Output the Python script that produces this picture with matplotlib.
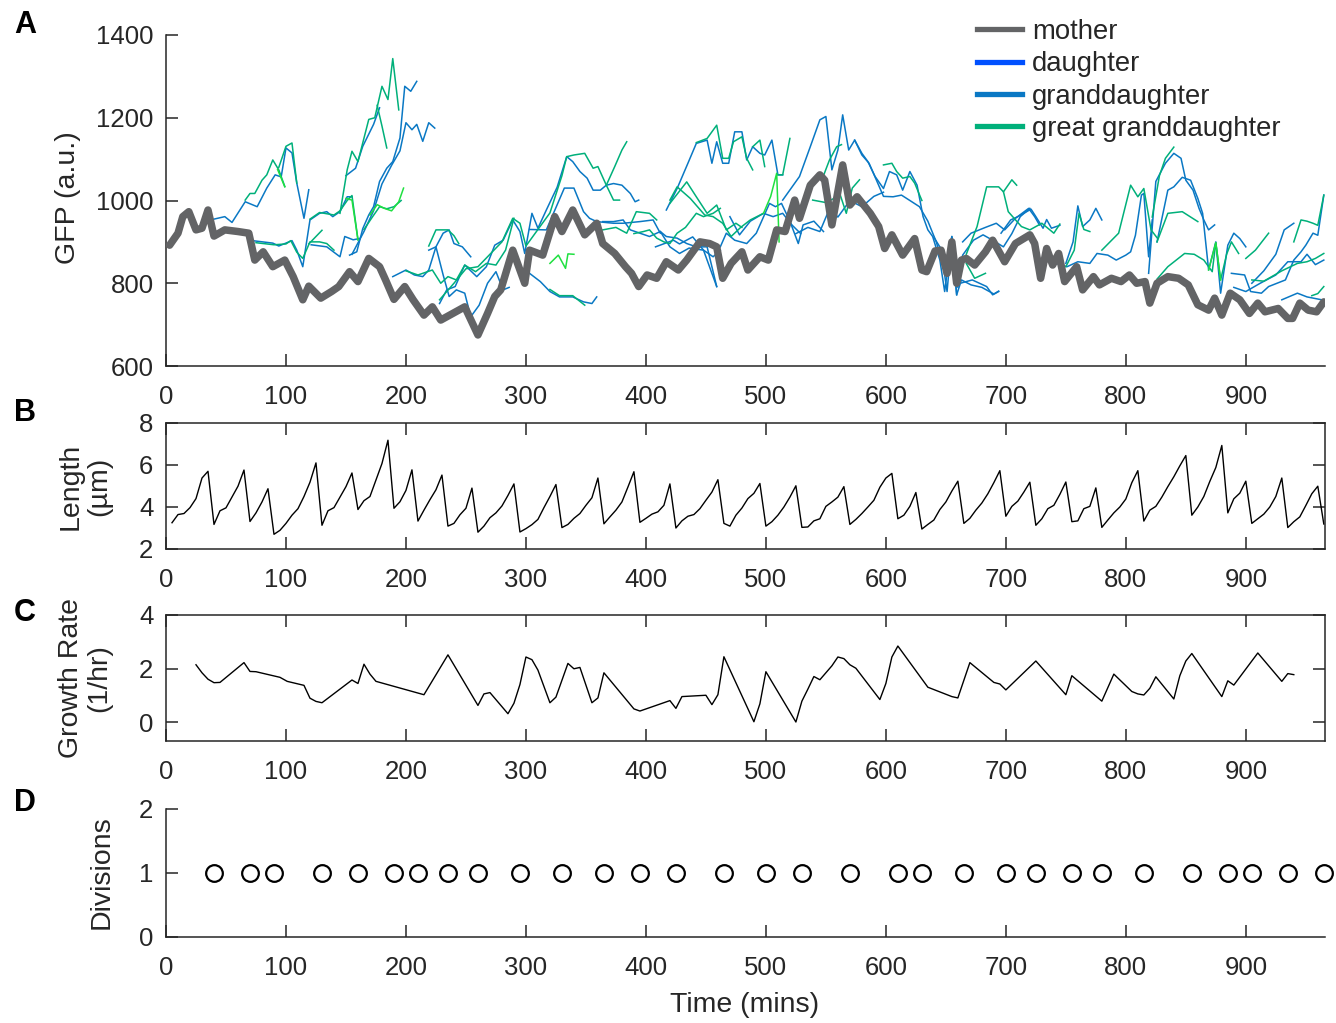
import numpy as np
import matplotlib
matplotlib.use("Agg")
import matplotlib.pyplot as plt

plt.rcParams['font.family'] = ['Liberation Sans', 'DejaVu Sans']

# ---------------- data ----------------
mother_t = [3, 10, 14, 19, 25, 30, 35, 40, 49, 60, 69, 74, 81, 89, 99, 106, 114, 119, 129, 138, 144, 153, 160, 169,
            178, 183, 190, 199, 206, 215, 222, 229, 239, 249, 260, 268, 274, 279, 289, 299, 303, 314, 324, 330, 339,
            349, 359, 364, 374, 383, 388, 394, 401, 409, 417, 427, 434, 445, 453, 459, 464, 471, 480, 485, 495, 502,
            509, 516, 524, 528, 537, 545, 549, 555, 564, 570, 576, 587, 594, 599, 605, 614, 624, 630, 634, 641, 646,
            651, 655, 659, 663, 667, 674, 683, 689, 699, 708, 720, 724, 729, 734, 739, 744, 749, 759, 764, 773, 778,
            788, 796, 803, 809, 816, 820, 826, 835, 844, 852, 860, 869, 874, 880, 887, 895, 903, 910, 916, 927, 935,
            939, 945, 952, 959, 965]
mother_gfp = [892, 921, 961, 973, 929, 933, 977, 914, 929, 925, 921, 856, 876, 840, 856, 816, 760, 793, 764, 780, 792,
              828, 804, 860, 840, 808, 761, 792, 760, 723, 743, 711, 727, 743, 675, 727, 768, 784, 880, 800, 880, 868,
              961, 925, 977, 917, 945, 896, 872, 840, 824, 792, 820, 812, 852, 832, 856, 900, 896, 888, 812, 848, 876,
              832, 864, 856, 929, 925, 1001, 957, 1037, 1062, 1049, 941, 1086, 989, 1009, 969, 937, 884, 917, 868, 908,
              832, 828, 878, 880, 824, 900, 800, 856, 860, 844, 876, 904, 852, 896, 917, 896, 812, 884, 844, 872, 804,
              840, 784, 816, 796, 812, 804, 820, 800, 804, 752, 800, 816, 812, 796, 748, 735, 764, 723, 776, 760, 727,
              752, 731, 739, 715, 715, 752, 735, 731, 755]

# granddaughter traces (time list, GFP list)
granddaughter = [
    ([40, 49, 55, 66, 76, 84, 91, 96, 100, 105, 109, 115, 119], [955, 961, 947, 997, 985, 1030, 1062, 1057, 1127, 1115, 1042, 957, 1026]),
    ([72, 89, 94, 105, 109, 114, 120, 128, 134, 139, 145, 151, 155], [903, 897, 890, 903, 880, 840, 953, 969, 973, 961, 973, 1009, 1009]),
    ([121, 134, 145, 149, 156, 161], [893, 888, 864, 913, 905, 908]),
    ([153, 159, 164, 169, 173, 178, 184, 189, 195, 199, 204, 209], [868, 876, 932, 965, 985, 1046, 1078, 1094, 1151, 1276, 1264, 1288]),
    ([155, 165, 173, 180, 188, 195, 200, 205, 209, 214, 219, 224], [870, 925, 975, 1040, 1085, 1120, 1188, 1171, 1184, 1143, 1188, 1175]),
    ([150, 158, 164, 173, 178], [1060, 1078, 1131, 1184, 1224]),
    ([189, 200, 207, 214, 219, 225, 231, 236, 242, 249, 254, 261, 268, 275, 281, 286], [816, 832, 820, 816, 832, 888, 820, 768, 784, 776, 719, 747, 800, 828, 784, 790]),
    ([219, 225, 231, 236, 240, 247, 254], [880, 888, 921, 929, 896, 888, 864]),
    ([228, 234, 241, 249, 259, 267, 274, 281, 289, 295, 299, 305, 310, 317, 326, 334, 339, 345, 351, 356, 362, 367, 373, 380, 387, 391, 394],
     [751, 784, 792, 844, 816, 840, 892, 904, 953, 925, 872, 969, 933, 977, 1032, 1106, 1094, 1070, 1054, 1025, 1025, 1037, 1041, 1037, 1017, 997, 1001]),
    ([303, 317, 332, 340, 348, 353, 359, 373, 381, 395, 406, 412], [930, 929, 1030, 1030, 973, 957, 949, 945, 945, 949, 953, 921]),
    ([303, 312, 320, 328, 339, 348, 355, 359], [824, 804, 780, 767, 767, 755, 751, 767]),
    ([364, 373, 381, 387, 395, 403, 412, 417, 426, 434, 442, 451, 459], [949, 949, 953, 929, 921, 913, 925, 913, 909, 896, 888, 888, 792]),
    ([412, 420, 428, 436, 448, 456, 462], [925, 888, 872, 885, 880, 864, 880]),
    ([417, 426, 435, 442, 451, 455, 459, 464, 469, 474, 480, 484, 489, 495, 499, 505, 510, 514],
     [977, 1029, 1090, 1138, 1146, 1090, 1142, 1090, 1090, 1166, 1166, 1098, 1130, 1114, 1110, 1146, 1062, 1062]),
    ([408, 423, 428, 439, 448, 459], [888, 904, 895, 912, 880, 792]),
    ([462, 467, 474, 484, 492, 503, 508, 513, 520, 527, 531, 540, 548], [888, 921, 904, 896, 921, 993, 985, 993, 950, 896, 941, 950, 925]),
    ([470, 478, 487, 498, 506, 514, 522, 529], [961, 917, 950, 969, 961, 969, 940, 920]),
    ([514, 528, 537, 545, 550, 555, 560, 564, 569, 574, 580, 585, 591, 598, 603, 609, 614, 620, 626, 631, 635, 639, 645, 649, 655, 659],
     [1001, 1058, 1130, 1195, 1203, 1074, 1122, 1207, 1122, 1146, 1114, 1094, 1058, 1029, 1070, 1062, 1025, 1070, 1037, 961, 929, 913, 856, 780, 913, 772]),
    ([574, 580, 586, 592, 598, 606, 613, 620, 628, 635, 642, 648, 651, 655, 660, 664, 673, 681, 689, 698, 705, 712, 720],
     [1146, 1110, 1090, 1050, 1010, 1009, 1013, 1000, 985, 950, 900, 840, 780, 910, 790, 868, 904, 917, 904, 888, 920, 961, 981]),
    ([525, 535, 545, 553, 560, 570, 580, 590, 598], [920, 935, 925, 980, 960, 1000, 985, 1010, 1020]),
    ([664, 671, 683, 692, 699, 708, 719, 724, 728], [900, 921, 935, 945, 929, 957, 981, 961, 941]),
    ([662, 672, 684, 689, 694], [800, 808, 792, 772, 780]),
    ([640, 651, 655, 659, 663, 671, 680, 690, 694], [911, 860, 913, 772, 808, 796, 790, 774, 781]),
    ([696, 704, 710, 721, 725, 731, 734, 738, 745], [921, 953, 961, 979, 961, 933, 954, 933, 940]),
    ([750, 756, 760, 764, 770, 775, 780], [848, 900, 987, 937, 953, 981, 953]),
    ([740, 751, 760, 770, 776, 785, 792, 800, 804, 808, 813, 815, 819, 822], [850, 840, 852, 848, 872, 868, 856, 868, 876, 916, 1013, 1017, 864, 953]),
    ([819, 825, 833, 840, 846, 850, 856, 861, 865, 869, 874], [824, 1046, 1090, 1114, 1102, 1049, 1025, 981, 953, 929, 941]),
    ([826, 835, 840, 847, 854, 860, 864, 869, 875, 879, 885, 890, 895, 900], [900, 1025, 1033, 1056, 1049, 1005, 969, 832, 900, 776, 892, 921, 908, 888]),
    ([888, 899, 904, 913, 919, 926, 933, 940, 946, 950, 956, 960, 965], [824, 820, 780, 776, 792, 800, 808, 856, 876, 892, 921, 916, 1013]),
    ([905, 915, 925, 932, 940], [800, 830, 870, 929, 945]),
    ([890, 900, 912, 925, 935, 946, 951, 958, 965], [790, 780, 800, 820, 852, 852, 870, 845, 856]),
    ([930, 943, 951, 965], [760, 776, 767, 759]),
]

# great granddaughter traces
great_granddaughter = [
    ([145, 151, 155, 160, 169, 174, 180, 185, 189, 194], [969, 1074, 1119, 1094, 1196, 1200, 1276, 1244, 1343, 1219]),
    ([176, 180, 184], [1230, 1180, 1127]),
    ([66, 70, 74, 80, 84, 89, 94, 99], [1001, 1017, 1017, 1049, 1062, 1098, 1074, 1034]),
    ([94, 100, 105, 109], [1080, 1131, 1139, 1042]),
    ([120, 128, 134, 140, 145, 151, 155, 160], [955, 971, 968, 965, 975, 1000, 1012, 905]),
    ([119, 126, 130], [895, 916, 928]),
    ([75, 90, 100, 104, 109, 114, 120, 128, 134, 140], [898, 893, 895, 903, 875, 860, 900, 900, 896, 880]),
    ([165, 172, 178, 184, 190, 196], [930, 960, 985, 980, 985, 1000]),
    ([200, 210, 222, 229, 235, 242, 249, 258, 267, 275, 283, 290], [830, 820, 832, 800, 816, 808, 844, 828, 848, 844, 880, 957]),
    ([219, 225, 235, 240, 244], [890, 929, 929, 915, 896]),
    ([228, 240, 250, 260, 270, 280, 289, 295, 300, 310, 320, 330, 334, 340, 349, 356, 360, 367, 373, 378],
     [760, 800, 835, 840, 870, 900, 957, 945, 890, 930, 970, 1060, 1106, 1110, 1114, 1078, 1082, 1037, 1001, 1001]),
    ([367, 374, 380, 384], [1037, 1082, 1122, 1142]),
    ([320, 328, 339, 349], [785, 770, 770, 747]),
    ([364, 375, 384, 392, 403, 409], [929, 935, 921, 973, 969, 953]),
    ([390, 398, 403, 409, 415, 420, 426, 433, 442, 448, 456, 462], [920, 925, 929, 909, 900, 896, 921, 935, 969, 961, 969, 981]),
    ([420, 426, 437, 449, 456, 464, 471, 479, 487, 498], [1001, 1033, 1005, 965, 961, 945, 913, 935, 953, 969]),
    ([442, 451, 459, 464, 469, 473, 480, 484, 489], [1140, 1150, 1182, 1102, 1102, 1142, 1154, 1102, 1074]),
    ([420, 434, 442, 451, 459, 467, 475, 480], [993, 1045, 1009, 969, 989, 929, 945, 935]),
    ([489, 495, 499], [1130, 1146, 1082]),
    ([510, 514, 520], [1062, 1062, 1150]),
    ([539, 550, 562, 567, 572, 578], [1001, 995, 1013, 969, 1030, 1050]),
    ([548, 553, 559, 563], [1060, 1098, 1130, 1135]),
    ([598, 605, 609, 614, 620, 624, 630], [1086, 1090, 1070, 1054, 1058, 1042, 1000]),
    ([667, 676, 684, 694, 698, 705, 709], [870, 937, 1033, 1033, 1021, 1050, 1037]),
    ([698, 702, 713, 720, 730, 740, 745], [1021, 973, 937, 929, 945, 921, 943]),
    ([667, 674, 683], [848, 812, 824]),
    ([750, 757, 761, 765, 770], [840, 880, 969, 930, 925]),
    ([780, 794, 804, 810, 815, 821, 826], [880, 921, 1037, 1009, 1029, 929, 910]),
    ([822, 828, 833, 840], [960, 1060, 1102, 1129]),
    ([826, 835, 847, 860], [900, 969, 973, 949]),
    ([826, 835, 849, 857, 865, 872, 875, 879, 884, 888, 894], [810, 840, 872, 870, 856, 828, 898, 808, 870, 900, 872]),
    ([940, 946, 951, 956, 960, 965], [900, 953, 950, 945, 940, 1013]),
    ([900, 908, 919], [860, 880, 921]),
    ([905, 915, 930, 943, 951, 958, 965], [808, 805, 830, 848, 852, 860, 872]),
    ([955, 960, 965], [770, 775, 792]),
]

# next generation (bright green, not in legend)
great_great_granddaughter = [
    ([93, 99], [1075, 1033]),
    ([150, 155, 160], [1005, 1001, 905]),
    ([170, 176, 182, 188, 194, 198], [965, 990, 981, 975, 997, 1030]),
    ([320, 327, 333, 335, 340], [848, 868, 836, 871, 870]),
    ([498, 504, 509, 511], [969, 1010, 1066, 900]),
    ([869, 875, 879], [832, 898, 808]),
]

length_t = list(range(5, 970, 5))
length_um = [3.25, 3.64, 3.69, 3.97, 4.40, 5.38, 5.70,
             3.17, 3.82, 3.96, 4.47, 4.99, 5.76,
             3.31, 3.72, 4.24, 4.87,
             2.70, 2.89, 3.22, 3.61, 3.92, 4.50, 5.18, 6.10,
             3.13, 3.82, 3.97, 4.47, 4.97, 5.62,
             3.88, 4.30, 4.50, 5.29, 6.07, 7.18,
             3.94, 4.25, 4.79, 5.77,
             3.33, 3.85, 4.35, 4.82, 5.52,
             3.09, 3.22, 3.63, 3.94, 4.90,
             2.80, 3.09, 3.49, 3.72, 4.05, 4.55, 5.10,
             2.81, 2.97, 3.16, 3.41, 3.97, 4.50, 5.07,
             3.02, 3.17, 3.46, 3.69, 4.08, 4.44, 5.38,
             3.20, 3.53, 3.85, 4.24, 4.95, 5.68,
             3.27, 3.46, 3.66, 3.77, 4.08, 5.10,
             3.00, 3.34, 3.56, 3.64, 3.92, 4.32, 4.71, 5.30,
             3.22, 3.09, 3.61, 3.95, 4.40, 4.65, 5.12,
             3.09, 3.30, 3.61, 4.00, 4.47, 5.01,
             3.03, 3.05, 3.34, 3.44, 4.03, 4.24, 4.47, 4.97,
             3.17, 3.41, 3.69, 4.00, 4.32, 4.94, 5.38, 5.60,
             3.44, 3.61, 4.03, 4.69,
             2.95, 3.17, 3.38, 3.88, 4.24, 4.76, 5.23,
             3.22, 3.46, 3.85, 4.19, 4.63, 5.16, 5.73,
             3.56, 4.03, 4.28, 4.71, 5.18,
             3.13, 3.44, 3.92, 4.08, 4.60, 5.19,
             3.30, 3.34, 3.92, 4.03, 4.91,
             3.03, 3.38, 3.72, 4.00, 4.38, 5.16, 5.73,
             3.33, 3.85, 4.03, 4.47, 4.97, 5.44, 5.96, 6.45,
             3.61, 4.00, 4.50, 5.22, 5.88, 6.93,
             3.72, 4.39, 4.66, 5.23,
             3.22, 3.44, 3.66, 4.00, 4.50, 5.38,
             3.02, 3.30, 3.53, 4.07, 4.63, 4.99, 3.19]

growth_t = [25, 30, 35, 40, 45, 65, 70, 75, 95, 101, 115, 120, 125, 130, 155, 160, 165, 170, 175, 215, 235, 260,
            265, 270, 285, 290, 295, 300, 305, 310, 320, 325, 335, 340, 345, 355, 360, 365, 390, 395, 420, 425, 430,
            450, 455, 460, 465, 490, 495, 500, 525, 530, 535, 540, 545, 555, 560, 565, 570, 575, 595, 600, 605, 610,
            635, 655, 660, 670, 690, 695, 700, 725, 750, 755, 780, 790, 805, 810, 815, 820, 825, 840, 845, 850, 855,
            880, 885, 890, 910, 930, 935, 940]
growth_rate = [2.14, 1.84, 1.60, 1.47, 1.48, 2.22, 1.89, 1.88, 1.67, 1.52, 1.37, 0.89, 0.77, 0.72, 1.57, 1.44, 2.16,
               1.79, 1.52, 1.02, 2.51, 0.62, 1.05, 1.10, 0.31, 0.70, 1.40, 2.43, 2.33, 1.94, 0.72, 0.93, 2.19, 1.99,
               2.04, 0.72, 0.90, 1.84, 0.49, 0.41, 0.80, 0.51, 0.95, 1.00, 0.65, 1.02, 2.44, 0.01, 0.68, 1.88, 0.0,
               0.78, 1.23, 1.70, 1.58, 2.10, 2.43, 2.37, 2.14, 2.01, 0.84, 1.44, 2.43, 2.84, 1.30, 0.95, 0.90, 2.22,
               1.48, 1.42, 1.20, 2.28, 1.02, 1.73, 0.78, 1.79, 1.14, 1.05, 1.01, 1.26, 1.69, 0.86, 1.73, 2.28, 2.56,
               0.95, 1.54, 1.38, 2.58, 1.52, 1.81, 1.77]

division_t = [40, 70, 90, 130, 160, 190, 210, 235, 260, 295, 330, 365, 395, 425, 465, 500, 530, 570, 610, 630, 665,
              700, 725, 755, 780, 815, 855, 885, 905, 935, 965]
division_n = [1] * len(division_t)

legend_labels = ['mother', 'daughter', 'granddaughter', 'great granddaughter']

# ---------------- style ----------------
C_MOTHER = '#636466'
C_D = '#0050FF'
C_GD = '#0A78C4'
C_GGD = '#00B07A'
C_GGGD = '#1FE040'
AX_COL = '#262626'
TICK_FS = 18.5
LAB_FS = 20.5
LEG_FS = 19.8

W, H = 1336, 1023
fig = plt.figure(figsize=(W / 100, H / 100), dpi=100)


def ax_at(left, top, right, bottom):
    return fig.add_axes([left / W, 1 - bottom / H, (right - left) / W, (bottom - top) / H])


def style(ax, box):
    for s in ['left', 'bottom', 'top', 'right']:
        ax.spines[s].set_color(AX_COL)
        ax.spines[s].set_linewidth(1.1)
    if not box:
        ax.spines['top'].set_visible(False)
        ax.spines['right'].set_visible(False)
    ax.tick_params(direction='in', length=8.5, width=1.1, colors=AX_COL, labelsize=TICK_FS,
                   top=box, right=box, labelcolor=AX_COL)
    ax.tick_params(axis='x', pad=13.5)
    ax.tick_params(axis='y', pad=9)
    ax.set_xlim(0, 966)
    ax.set_xticks(range(0, 1000, 100))


axA = ax_at(166, 35, 1325, 366)
axB = ax_at(166, 423, 1325, 549)
axC = ax_at(166, 615, 1325, 741)
axD = ax_at(166, 809, 1325, 937)

# Panel A
for t, v in granddaughter:
    axA.plot(t, v, color=C_GD, lw=1.1)
for t, v in great_granddaughter:
    axA.plot(t, v, color=C_GGD, lw=1.1)
for t, v in great_great_granddaughter:
    axA.plot(t, v, color=C_GGGD, lw=1.1)
axA.plot(mother_t, mother_gfp, color=C_MOTHER, lw=5.4, solid_joinstyle='round', solid_capstyle='round', zorder=5)
style(axA, False)
axA.set_ylim(600, 1400)
axA.set_yticks(range(600, 1401, 200))

handles = []
for lab, col in zip(legend_labels, [C_MOTHER, C_D, C_GD, C_GGD]):
    h, = axA.plot([], [], color=col, lw=3.8, label=lab)
    handles.append(h)
leg = fig.legend(handles=handles, loc='upper left', bbox_to_anchor=(977 / W, 1 - 19 / H),
                 frameon=False, fontsize=LEG_FS, handlelength=1.64, handletextpad=0.36,
                 labelspacing=0.23, borderpad=0, borderaxespad=0)
for txt in leg.get_texts():
    txt.set_color(AX_COL)

# Panel B
axB.plot(length_t, length_um, color='black', lw=1.0)
style(axB, True)
axB.set_ylim(2, 8)
axB.set_yticks([2, 4, 6, 8])

# Panel C
axC.plot(growth_t, growth_rate, color='black', lw=1.0)
style(axC, True)
axC.set_ylim(-0.71, 4)
axC.set_yticks([0, 2, 4])

# Panel D
axD.plot(division_t, division_n, 'o', mfc='none', mec='black', ms=12, mew=1.6, clip_on=False)
style(axD, False)
axD.set_ylim(0, 2)
axD.set_yticks([0, 1, 2])

# labels
fig.text(68 / W, 1 - 198 / H, 'GFP (a.u.)', rotation=90, ha='center', va='center', fontsize=LAB_FS, color=AX_COL)
fig.text(85 / W, 1 - 486 / H, 'Length\n(µm)', rotation=90, ha='center', va='center', fontsize=LAB_FS,
         color=AX_COL, multialignment='center', linespacing=1.15)
fig.text(85 / W, 1 - 678 / H, 'Growth Rate\n(1/hr)', rotation=90, ha='center', va='center', fontsize=LAB_FS,
         color=AX_COL, multialignment='center', linespacing=1.15)
fig.text(102 / W, 1 - 872 / H, 'Divisions', rotation=90, ha='center', va='center', fontsize=LAB_FS, color=AX_COL)
fig.text(745 / W, 1 - 1005 / H, 'Time (mins)', ha='center', va='center', fontsize=LAB_FS, color=AX_COL)

for letter, y in zip('ABCD', [25, 413, 613, 803]):
    fig.text(25 / W, 1 - y / H, letter, ha='center', va='center', fontsize=22, fontweight='bold', color='black')

fig.savefig('out.png', dpi=100)
